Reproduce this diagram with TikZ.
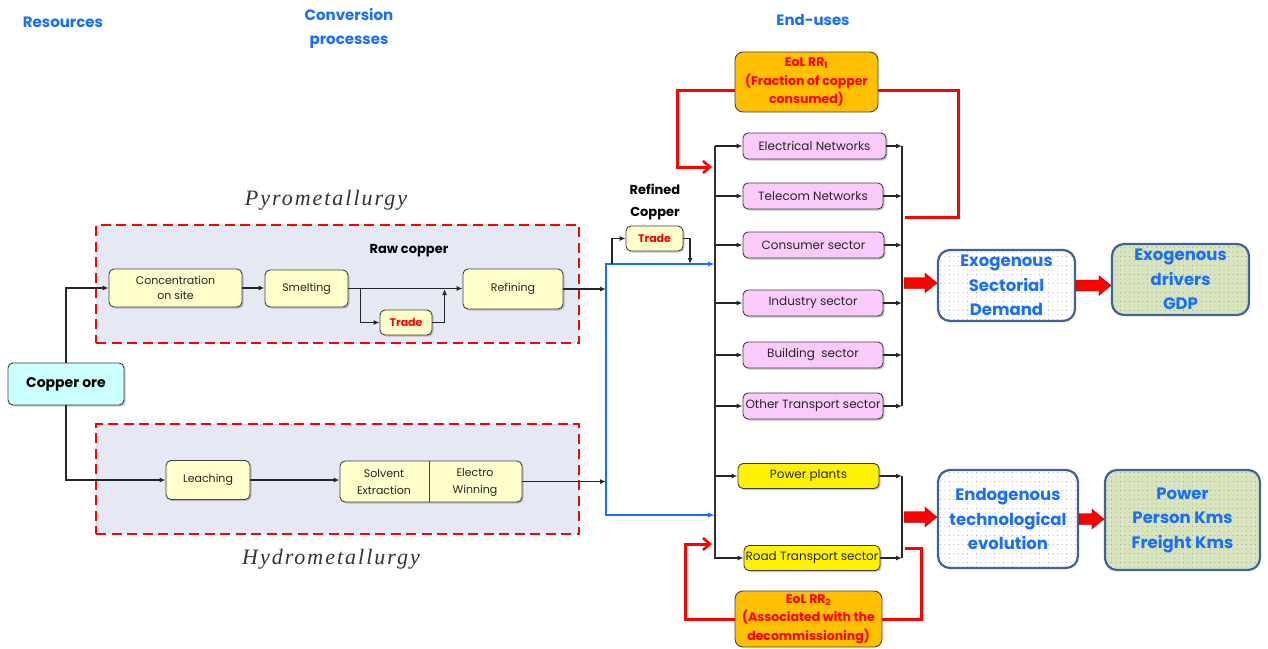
\documentclass[tikz,border=0pt]{standalone}
\usepackage{fontspec}
\setmainfont{Poppins}
\newfontfamily\pyrofont[LetterSpace=9]{Liberation Serif}
\usetikzlibrary{arrows.meta,shadows,patterns.meta,calc}
\definecolor{hblue}{RGB}{25,110,250}
\definecolor{bgbox}{RGB}{228,233,244}
\definecolor{lyel}{RGB}{255,255,204}
\definecolor{pinkb}{RGB}{250,202,250}
\definecolor{cyanb}{RGB}{204,255,255}
\definecolor{orangeb}{RGB}{255,192,0}
\definecolor{steel}{RGB}{64,100,145}
\definecolor{greenb}{RGB}{215,228,189}
\tikzset{
  hdr/.style={text=hblue, font=\bfseries\fontsize{15}{24}\selectfont, align=center},
  pbox/.style={draw=black!75, line width=0.9pt, rounded corners=5pt, align=center,
    inner sep=1pt, font=\fontsize{11}{15}\selectfont, text=black!85,
    drop shadow={shadow xshift=1.5pt, shadow yshift=-1.5pt, opacity=0.45}},
  ybox/.style={pbox, fill=lyel},
  secbox/.style={pbox, fill=pinkb, minimum height=26pt, font=\fontsize{12}{15}\selectfont},
  region/.style={draw=red, line width=2.6pt, dash pattern=on 10pt off 5.5pt, fill=bgbox},
  eolbox/.style={draw=black!75, line width=0.9pt, rounded corners=8pt, fill=orangeb,
    text=red, font=\bfseries\fontsize{12.5}{18.5}\selectfont, align=center},
  dotbox/.style={draw=steel, line width=2.2pt, rounded corners=12pt,
    preaction={fill=#1}, pattern={Dots[distance=4.5pt,radius=0.4pt]}, pattern color=black!55,
    text=hblue, font=\bfseries\fontsize{16.5}{24.5}\selectfont, align=center},
  arr/.style={-{Latex[length=6pt,width=5pt]}, line width=1.3pt, draw=black!85},
  barr/.style={-{Latex[length=7pt,width=5pt]}, line width=1.5pt, draw=hblue},
  rarr/.style={-{Straight Barb[length=7pt,width=12pt,line width=2.6pt]}, line width=3pt, draw=red},
  rline/.style={line width=3pt, draw=red},
}
\newcommand\blkarr[2]{\path let \p1=(#1), \p2=(#2) in [fill=red, draw=red!50!black, line width=0.3pt]
  ({\x1},{\y1+5.5pt}) -- ({\x2-12pt},{\y1+5.5pt}) -- ({\x2-12pt},{\y1+10pt}) -- ({\x2},{\y1})
  -- ({\x2-12pt},{\y1-10pt}) -- ({\x2-12pt},{\y1-5.5pt}) -- ({\x1},{\y1-5.5pt}) -- cycle;}
\begin{document}
\begin{tikzpicture}[x=1pt,y=-1pt]
\useasboundingbox[fill=white] (0,0) rectangle (1268,648);
% headers
\node[hdr] (hres) at (63,22) {Resources};
\node[hdr] (hconv) at (349,28) {Conversion\\processes};
\node[hdr] (hend) at (813,20) {End-uses};
% regions
\node[region, minimum width=483pt, minimum height=118pt] (pyrobox) at (337.5,284) {};
\node[region, minimum width=483pt, minimum height=110pt] (hydrobox) at (337.5,479) {};
\node[font=\pyrofont\itshape\fontsize{22}{24}\selectfont, text=black!80] (pyro) at (326,200) {Pyrometallurgy};
\node[font=\pyrofont\itshape\fontsize{22}{24}\selectfont, text=black!80] (hydro) at (331,559) {Hydrometallurgy};
\node[font=\bfseries\fontsize{13}{15}\selectfont] (raw) at (409,251) {Raw copper};
\node[font=\bfseries\fontsize{13}{22}\selectfont, align=center] (refc) at (655,202) {Refined\\Copper};
% process boxes
\node[pbox, fill=cyanb, minimum width=116pt, minimum height=42pt, font=\bfseries\fontsize{14}{15}\selectfont, text=black] (ore) at (66,384) {Copper ore};
\node[ybox, minimum width=133pt, minimum height=38pt] (conc) at (175.5,288) {Concentration\\on site};
\node[ybox, minimum width=83pt, minimum height=37pt] (smelt) at (306.5,288.5) {Smelting};
\node[ybox, minimum width=52pt, minimum height=25pt, text=red, font=\bfseries\fontsize{11}{13}\selectfont] (trade1) at (406,322.5) {Trade};
\node[ybox, minimum width=100pt, minimum height=40pt] (refin) at (513,289) {Refining};
\node[ybox, minimum width=84pt, minimum height=39pt] (leach) at (208,480) {Leaching};
\node[ybox, minimum width=182pt, minimum height=41pt] (sxew) at (431,481.5) {};
\draw[black!75, line width=0.9pt] ($(sxew.north)+(-2,0)$) -- ($(sxew.south)+(-2,0)$);
\node[font=\fontsize{11}{17}\selectfont, align=center, text=black!85] (sxL) at (384,482) {Solvent\\Extraction};
\node[font=\fontsize{11}{17}\selectfont, align=center, text=black!85] (sxR) at (475,482) {Electro\\Winning};
\node[ybox, minimum width=57pt, minimum height=25pt, text=red, font=\bfseries\fontsize{11}{13}\selectfont] (trade2) at (654.5,238.5) {Trade};
% sectors
\node[secbox, minimum width=143pt] (en) at (814.5,146) {Electrical Networks};
\node[secbox, minimum width=140pt] (tn) at (813,196) {Telecom Networks};
\node[secbox, minimum width=141pt] (cs) at (813.5,245) {Consumer sector};
\node[secbox, minimum width=140pt] (is) at (813,303) {Industry sector};
\node[secbox, minimum width=140pt] (bs) at (813,355) {Building\ \ sector};
\node[secbox, minimum width=140pt] (ot) at (813,406) {Other Transport sector};
\node[secbox, fill=yellow, minimum width=141pt, minimum height=25pt] (pp) at (808.5,476) {Power plants};
\node[secbox, fill=yellow, minimum width=136pt, minimum height=25pt] (rt) at (812,558) {Road Transport sector};
% EoL
\node[eolbox, minimum width=143pt, minimum height=60pt] (eol1) at (806.5,82) {EoL RR\textsubscript{1}\\(Fraction of copper\\consumed)};
\node[eolbox, minimum width=147pt, minimum height=56pt] (eol2) at (808.5,619) {EoL RR\textsubscript{2}\\(Associated with the\\decommissioning)};
% right boxes
\node[dotbox=white, minimum width=137pt, minimum height=71pt] (exoD) at (1006.5,285.5) {Exogenous\\Sectorial\\Demand};
\node[dotbox=greenb, minimum width=137pt, minimum height=71pt] (gdp) at (1180.5,279.5) {Exogenous\\drivers\\GDP};
\node[dotbox=white, minimum width=140pt, minimum height=98pt] (endo) at (1008,519) {Endogenous\\technological\\evolution};
\node[dotbox=greenb, minimum width=155pt, minimum height=100pt] (pkm) at (1182.5,520) {Power\\Person Kms\\Freight Kms};
% coordinates
\coordinate (bT) at (606,264);
\coordinate (bB) at (606,515);
\coordinate (busT) at (715,146);
\coordinate (busB) at (715,559);
\coordinate (rb) at (902,146);
\coordinate (t2a) at (612,264);
\coordinate (t2b) at (690,264);
\coordinate (ba1) at (904,283);
\coordinate (ba3) at (904,517);
% left connectors
\draw[arr] (ore.north) |- (conc.west);
\draw[arr] (ore.south) |- (leach.west);
\draw[arr] (conc.east) -- (conc.east -| smelt.west);
\draw[arr] (smelt.east) -- (smelt.east -| refin.west);
\draw[arr] ($(smelt.east)+(12,0)$) |- (trade1.west);
\draw[arr] (trade1.east) -| ($(refin.west)+(-18,0)$);
\draw[arr] (leach.east) -- (leach.east -| sxew.west);
\draw[arr] (refin.east) -- (refin.east -| bT);
\draw[arr] (sxew.east) -- (sxew.east -| bT);
% blue
\draw[barr] (bB) -- (bT) -- (bT -| busT);
\draw[barr] (bT) -- (bB) -- (bB -| busT);
% refined trade
\draw[arr] (t2a) |- (trade2.west);
\draw[arr] (trade2.east) -| (t2b);
% main bus
\draw[line width=1.3pt, black!80] (busT) -- (busB);
\foreach \n in {en,tn,cs,is,bs,ot,pp,rt} \draw[arr] (\n.west -| busT) -- (\n.west);
\draw[line width=1.3pt, black!85] (en.east -| rb) -- (ot.east -| rb);
\draw[line width=1.3pt, black!85] (pp.east -| rb) -- (rt.east -| rb);
\foreach \n in {en,tn,cs,is,bs,ot,pp,rt} \draw[arr] (\n.east) -- (\n.east -| rb);
% red feedback
\draw[rarr] ($(eol1.west)+(0,8)$) -- (677,90) -- (677,167) -- (712,167);
\draw[rline] ($(eol1.east)+(0,8)$) -- (958,90) -- (958,217) -- (905,217);
\draw[rarr] (eol2.west) -- (685,619) -- (685,544) -- (712,544);
\draw[rline] (eol2.east) -- (921,619) -- (921,548) -- (905,548);
% block arrows
\blkarr{ba1}{exoD.west}
\blkarr{exoD.east}{gdp.west}
\blkarr{ba3}{endo.west}
\blkarr{endo.east}{pkm.west}
\end{tikzpicture}
\end{document}
